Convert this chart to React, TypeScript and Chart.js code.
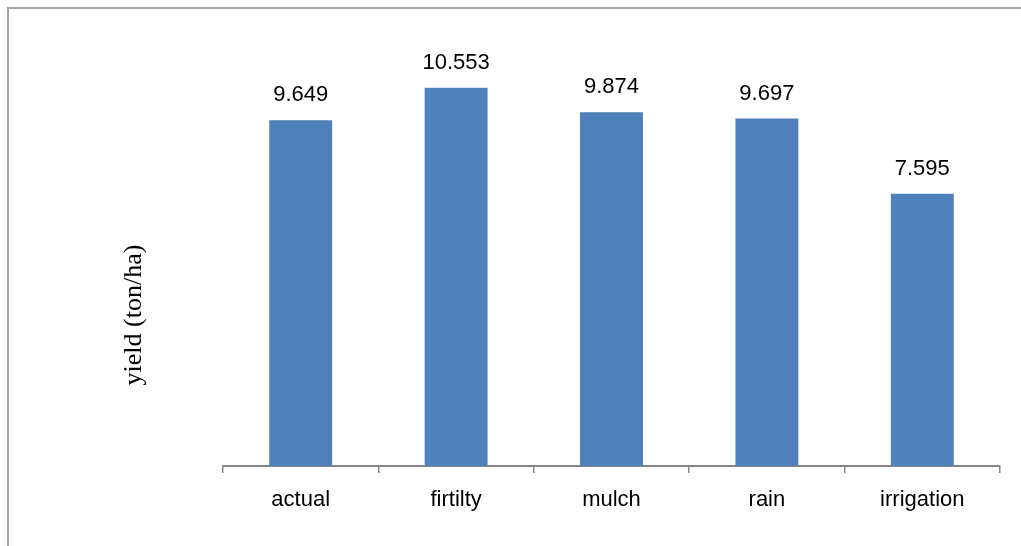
import React, { useEffect, useRef } from "react";
import { Chart, registerables } from "chart.js";

Chart.register(...registerables);

// Yield by scenario
const categories: string[] = ["actual", "firtilty", "mulch", "rain", "irrigation"];
const yieldValues: number[] = [9.649, 10.553, 9.874, 9.697, 7.595];
const yAxisTitle = "yield (ton/ha)";

const BAR_COLOR = "#4F81BD";
const AXIS_COLOR = "#868686";
const SANS = "'Liberation Sans', Arial, sans-serif";
const SERIF = "'Liberation Serif', 'Times New Roman', serif";

// Writes each bar's value above it
const valueLabels = {
  id: "valueLabels",
  afterDatasetsDraw(chart: any) {
    const { ctx } = chart;
    const meta = chart.getDatasetMeta(0);
    const data = chart.data.datasets[0].data as number[];
    ctx.save();
    ctx.font = `22px ${SANS}`;
    ctx.fillStyle = "#000";
    ctx.textAlign = "center";
    ctx.textBaseline = "alphabetic";
    meta.data.forEach((bar: any, i: number) => {
      ctx.fillText(data[i].toFixed(3), bar.x, bar.y - 19);
    });
    ctx.restore();
  },
};

// Rotated serif title for the value axis
const yTitle = {
  id: "yTitle",
  afterDraw(chart: any) {
    const { ctx } = chart;
    ctx.save();
    ctx.translate(132, 306);
    ctx.rotate(-Math.PI / 2);
    ctx.font = `26px ${SERIF}`;
    ctx.fillStyle = "#000";
    ctx.textAlign = "center";
    ctx.textBaseline = "alphabetic";
    ctx.fillText(yAxisTitle, 0, 0);
    ctx.restore();
  },
};

export default function App() {
  const canvasRef = useRef<HTMLCanvasElement | null>(null);

  useEffect(() => {
    if (!canvasRef.current) return;
    const chart = new Chart(canvasRef.current, {
      type: "bar",
      data: {
        labels: categories,
        datasets: [
          {
            data: yieldValues,
            backgroundColor: BAR_COLOR,
            borderWidth: 0,
            barPercentage: 0.405,
            categoryPercentage: 1,
          },
        ],
      },
      options: {
        animation: false,
        responsive: true,
        maintainAspectRatio: false,
        layout: { padding: { left: 214, right: 21, top: 27, bottom: 0 } },
        plugins: {
          legend: { display: false },
          tooltip: { enabled: false },
          title: { display: false },
        },
        scales: {
          x: {
            offset: true,
            grid: {
              display: true,
              offset: true,
              drawOnChartArea: false,
              drawTicks: true,
              tickLength: 7,
              color: AXIS_COLOR,
              lineWidth: 1.5,
            },
            border: { display: true, color: AXIS_COLOR, width: 2 },
            ticks: {
              color: "#000",
              font: { family: SANS, size: 22 },
              padding: 14,
              maxRotation: 0,
            },
            afterFit(scale: any) {
              scale.height = 80;
            },
          },
          y: {
            display: false,
            min: 0,
            max: 12,
          },
        },
      },
      plugins: [valueLabels, yTitle],
    });
    return () => chart.destroy();
  }, []);

  return (
    <div
      style={{
        position: "fixed",
        left: 7,
        top: 7,
        width: 1014,
        height: 539,
        boxSizing: "border-box",
        borderTop: "2px solid #a3a3a3",
        borderLeft: "2px solid #a3a3a3",
        background: "#fff",
        overflow: "hidden",
      }}
    >
      <div style={{ position: "absolute", left: 0, top: 0, width: 1012, height: 537 }}>
        <canvas ref={canvasRef} />
      </div>
    </div>
  );
}
